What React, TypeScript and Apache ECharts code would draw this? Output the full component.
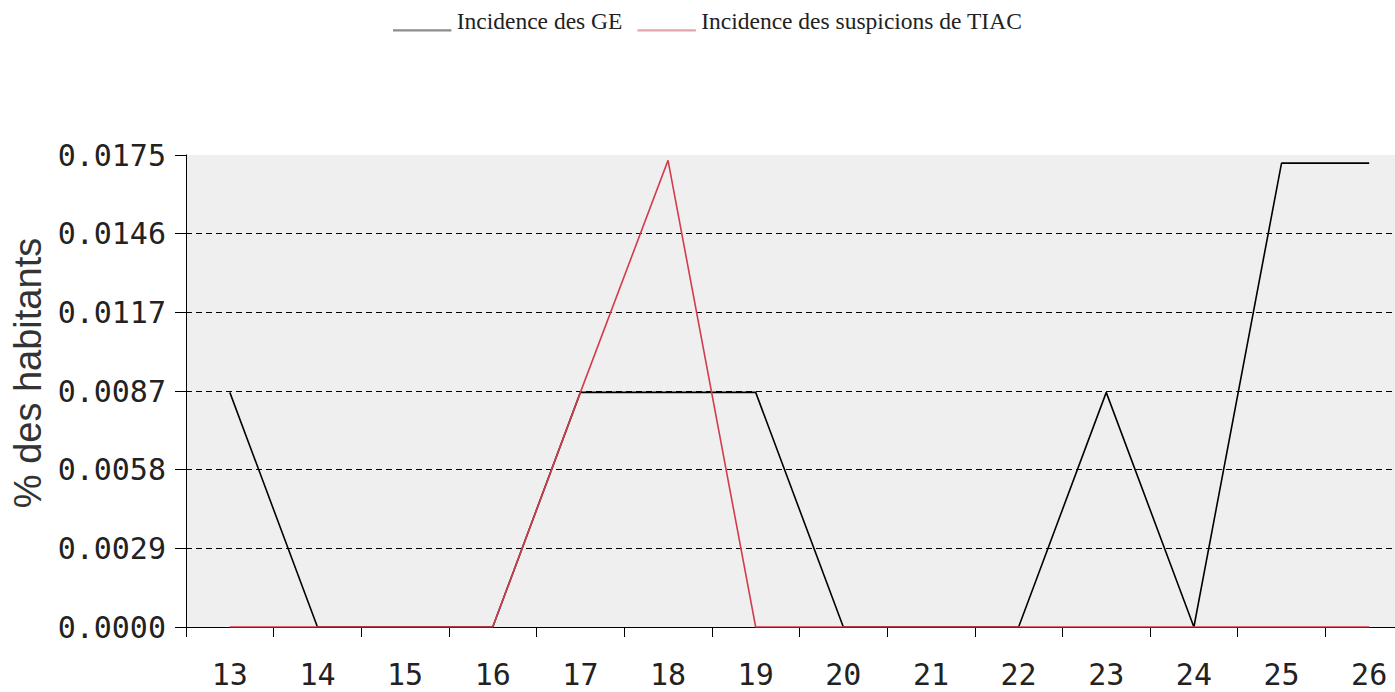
import React, { useEffect, useRef } from "react";
import * as echarts from "echarts";

const categories = ["13", "14", "15", "16", "17", "18", "19", "20", "21", "22", "23", "24", "25", "26"];
const geValues = [0.0087, 0, 0, 0, 0.0087, 0.0087, 0.0087, 0, 0, 0, 0.0087, 0, 0.0172, 0.0172];
const tiacValues = [0, 0, 0, 0, 0.0087, 0.0173, 0, 0, 0, 0, 0, 0, 0, 0];
const yTickLabels = ["0.0000", "0.0029", "0.0058", "0.0087", "0.0117", "0.0146", "0.0175"];
const yMax = 0.0175;

const legendIcon = "path://M0,0 L59,0 L59,0.01 L0,0.01 Z M0,19 L59,19 L59,21.2 L0,21.2 Z";

export default function App() {
  const ref = useRef<HTMLDivElement>(null);
  useEffect(() => {
    document.body.style.margin = "0";
    const chart = echarts.init(ref.current!, null, { renderer: "svg" });
    const step = yMax / 6;
    chart.setOption({
      animation: false,
      backgroundColor: "#ffffff",
      legend: {
        left: 393,
        top: 9,
        padding: 0,
        itemGap: 15,
        itemWidth: 59,
        itemHeight: 21,
        icon: legendIcon,
        textStyle: {
          fontFamily: "Liberation Serif",
          fontSize: 23.5,
          color: "#222",
        },
        data: [
          { name: "Incidence des GE", itemStyle: { color: "#8c8c8c" } },
          { name: "Incidence des suspicions de TIAC", itemStyle: { color: "#e2a4ad" } },
        ],
      },
      grid: {
        left: 186,
        top: 155,
        right: 0,
        bottom: 65,
        show: true,
        backgroundColor: "#efefef",
        borderWidth: 0,
      },
      xAxis: {
        type: "category",
        data: categories,
        boundaryGap: true,
        axisLine: { show: true, lineStyle: { color: "#000", width: 1 } },
        axisTick: { show: true, alignWithLabel: false, interval: 0, length: 10, lineStyle: { color: "#000" } },
        axisLabel: {
          interval: 0,
          margin: 32,
          fontFamily: "DejaVu Sans Mono",
          fontSize: 30,
          color: "#222",
        },
        splitLine: { show: false },
      },
      yAxis: {
        type: "value",
        min: 0,
        max: yMax,
        interval: step,
        name: "% des habitants",
        nameLocation: "middle",
        nameRotate: 90,
        nameGap: 135,
        nameTextStyle: {
          fontFamily: "Liberation Sans",
          fontSize: 38,
          color: "#333",
          padding: [0, 0, 0, 36],
        },
        axisLine: { show: true, lineStyle: { color: "#000", width: 1 } },
        axisTick: { show: true, length: 11, lineStyle: { color: "#000" } },
        axisLabel: {
          margin: 20,
          fontFamily: "DejaVu Sans Mono",
          fontSize: 30,
          color: "#222",
          formatter: (v: number) => yTickLabels[Math.round(v / step)] ?? "",
        },
        splitLine: {
          show: true,
          showMinLine: false,
          showMaxLine: false,
          lineStyle: { color: "#000", type: [6, 4], width: 1 },
        },
      },
      series: [
        {
          name: "Incidence des GE",
          type: "line",
          data: geValues,
          symbol: "none",
          lineStyle: { color: "#000", width: 1.6 },
          itemStyle: { color: "#8c8c8c" },
          z: 2,
        },
        {
          name: "Incidence des suspicions de TIAC",
          type: "line",
          data: tiacValues,
          symbol: "none",
          lineStyle: { color: "#d23c4c", width: 1.6 },
          itemStyle: { color: "#e2a4ad" },
          z: 3,
        },
      ],
    });
    return () => chart.dispose();
  }, []);
  return (
    <div style={{ width: 1395, height: 692, overflow: "hidden" }}>
      <div ref={ref} style={{ width: 1413, height: 692 }} />
    </div>
  );
}
